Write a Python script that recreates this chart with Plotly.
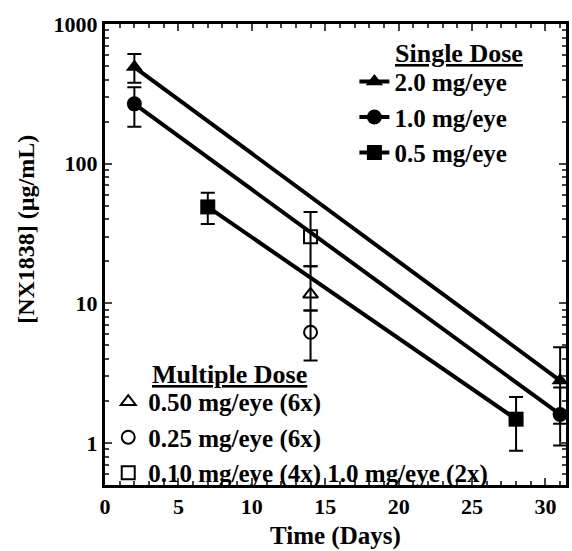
import plotly.graph_objects as go

# ---- data ----
days_2mg = [2, 31]
conc_2mg = [492, 2.8]
upper_2mg = [611, 4.85]
lower_2mg = [380, 1.37]

days_1mg = [2, 31]
conc_1mg = [268, 1.6]
upper_1mg = [352, 2.5]
lower_1mg = [184, 0.96]

days_05mg = [7, 28]
conc_05mg = [49, 1.48]
upper_05mg = [62, 2.13]
lower_05mg = [37, 0.88]

days_multi = [14]
conc_050x6 = [11.6]
upper_050x6 = [18.4]
lower_050x6 = [8.9]
conc_025x6 = [6.2]
upper_025x6 = [8.9]
lower_025x6 = [3.9]
conc_010x4 = [30]
upper_010x4 = [45]
lower_010x4 = [18.4]

x_ticks = [0, 5, 10, 15, 20, 25, 30]
y_ticks = [1, 10, 100, 1000]
y_tick_labels = ["1", "10", "100", "1000"]

FONT = "Liberation Serif, Times New Roman, serif"


def err(c, up, lo):
    return dict(type="data", symmetric=False,
                array=[u - v for u, v in zip(up, c)],
                arrayminus=[v - l for v, l in zip(c, lo)],
                color="black", thickness=2, width=7)


fig = go.Figure()

single = [
    ("2.0 mg/eye", days_2mg, conc_2mg, upper_2mg, lower_2mg, "triangle-up"),
    ("1.0 mg/eye", days_1mg, conc_1mg, upper_1mg, lower_1mg, "circle"),
    ("0.5 mg/eye", days_05mg, conc_05mg, upper_05mg, lower_05mg, "square"),
]
for name, xs, ys, up, lo, sym in single:
    fig.add_trace(go.Scatter(
        x=xs, y=ys, name=name, mode="lines+markers",
        line=dict(color="black", width=4),
        marker=dict(symbol=sym, size=15, color="black"),
        error_y=err(ys, up, lo), legend="legend"))

multi = [
    ("0.50 mg/eye (6x)", conc_050x6, upper_050x6, lower_050x6, "triangle-up-open"),
    ("0.25 mg/eye (6x)", conc_025x6, upper_025x6, lower_025x6, "circle-open"),
    ("0.10 mg/eye (4x) 1.0 mg/eye (2x)", conc_010x4, upper_010x4, lower_010x4, "square-open"),
]
for name, ys, up, lo, sym in multi:
    fig.add_trace(go.Scatter(
        x=days_multi, y=ys, name=name, mode="markers",
        marker=dict(symbol=sym, size=13, color="black", line=dict(width=2, color="black")),
        error_y=err(ys, up, lo), legend="legend2"))

minor_y = [m * 10 ** e for e in range(-1, 3) for m in range(2, 10)]

fig.update_layout(
    width=572, height=551,
    margin=dict(l=105, r=3, t=24, b=66),
    paper_bgcolor="white", plot_bgcolor="white",
    font=dict(family=FONT, color="black", size=24, weight="bold"),
    showlegend=True,
    legend=dict(x=0.541, xanchor="left", y=0.9245, yanchor="top",
                bgcolor="rgba(0,0,0,0)", borderwidth=0,
                font=dict(family=FONT, size=25, color="black", weight="bold"),
                tracegroupgap=0, itemwidth=30),
    legend2=dict(x=0.007, xanchor="left", y=0.23, yanchor="top",
                 bgcolor="rgba(0,0,0,0)", borderwidth=0,
                 font=dict(family=FONT, size=25, color="black", weight="bold"),
                 tracegroupgap=0, itemwidth=30),
    xaxis=dict(range=[0, 31.4], tickvals=x_ticks, ticks="inside", ticklen=7, tickwidth=2,
               showline=True, linecolor="black", linewidth=3, mirror="ticks",
               showgrid=False, zeroline=False,
               tickfont=dict(family=FONT, size=22, color="black", weight="bold"),
               minor=dict(dtick=1, ticks="inside", ticklen=4, tickwidth=2, showgrid=False)),
    yaxis=dict(type="log", range=[-0.301, 3], tickvals=y_ticks, ticktext=y_tick_labels,
               ticks="inside", ticklen=7, tickwidth=2,
               showline=True, linecolor="black", linewidth=3, mirror="ticks",
               showgrid=False, zeroline=False,
               tickfont=dict(family=FONT, size=22, color="black", weight="bold"),
               minor=dict(tickvals=minor_y, ticks="inside", ticklen=4, tickwidth=2, showgrid=False)),
    annotations=[
        dict(text="<u>Single Dose</u>", xref="paper", yref="paper", x=0.625, y=0.937,
             xanchor="left", yanchor="middle", showarrow=False,
             font=dict(family=FONT, size=26, color="black", weight="bold")),
        dict(text="<u>Multiple Dose</u>", xref="paper", yref="paper", x=0.097, y=0.239,
             xanchor="left", yanchor="middle", showarrow=False,
             font=dict(family=FONT, size=26, color="black", weight="bold")),
        dict(text="Time (Days)", xref="paper", yref="paper", x=0.5, y=-0.111,
             xanchor="center", yanchor="middle", showarrow=False,
             font=dict(family=FONT, size=25, color="black", weight="bold")),
        dict(text="[NX1838] (µg/mL)", xref="paper", yref="paper", x=-0.172, y=0.555,
             xanchor="center", yanchor="middle", showarrow=False, textangle=-90,
             font=dict(family=FONT, size=24, color="black", weight="bold")),
    ],
)

fig.write_html("out.html", config={"displayModeBar": False},
               post_script="document.body.style.margin='0px';")
